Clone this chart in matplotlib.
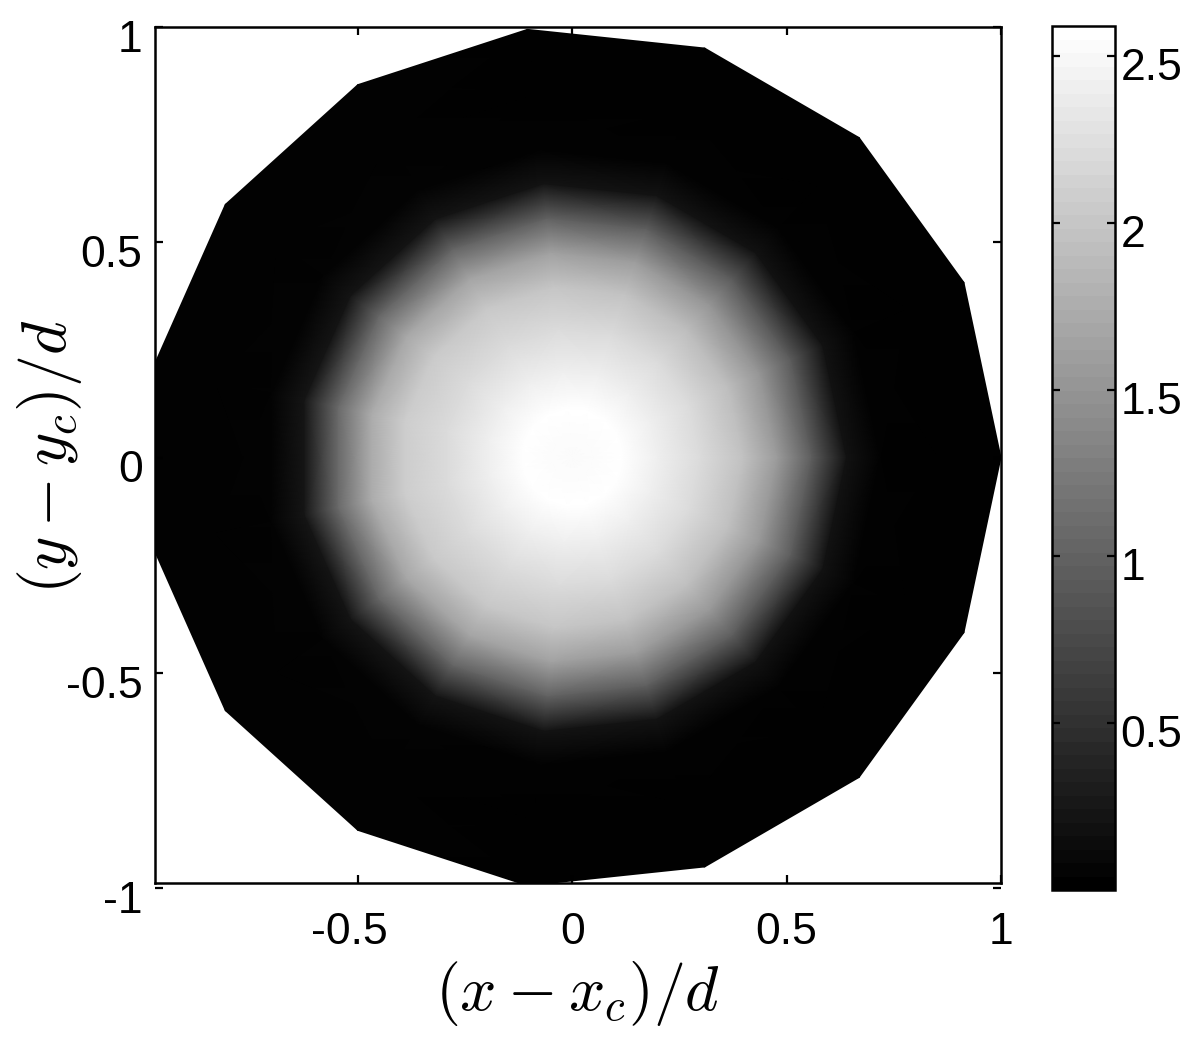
import numpy as np
import matplotlib
matplotlib.use("Agg")
import matplotlib.pyplot as plt
from matplotlib.cm import ScalarMappable
from matplotlib.colors import Normalize
from matplotlib.patches import Rectangle
from matplotlib.transforms import Affine2D

# -- data ----------------------------------------------------------------------
ring_radius = [0.0, 0.05, 0.115, 0.2, 0.3, 0.4, 0.48, 0.56, 0.64, 0.72, 0.85, 1.0]
ring_value = [2.54, 2.55, 2.59, 2.42, 2.22, 2.0, 1.62, 0.98, 0.2, 0.03, 0.02, 0.02]
n_sectors = 15
# small change of brightness from sector to sector in the outer part of the blob
sector_gain = [0.96, 0.92, 0.92, 0.97, 1.0, 1.03, 1.05, 1.08, 1.08, 1.04, 1.02, 1.0, 0.97, 0.94, 0.94]

x_ticks = [-0.5, 0, 0.5, 1]
x_tick_labels = ["-0.5", "0", "0.5", "1"]
y_ticks = [-1, -0.5, 0, 0.5, 1]
y_tick_labels = ["-1", "-0.5", "0", "0.5", "1"]
cbar_ticks = [0.5, 1, 1.5, 2, 2.5]
cbar_tick_labels = ["0.5", "1", "1.5", "2", "2.5"]
v_min, v_max = 0.0, 2.59

plt.rcParams["font.family"] = ["Liberation Sans", "DejaVu Sans"]
plt.rcParams["mathtext.fontset"] = "cm"
plt.rcParams["axes.unicode_minus"] = False

W, H = 1200, 1042
fig = plt.figure(figsize=(W / 100, H / 100), dpi=100)

# -- main map -------------------------------------------------------------------
ax = fig.add_axes([155 / W, (H - 888) / H, (1001 - 155) / W, (888 - 27) / H])

theta = np.deg2rad(np.arange(n_sectors + 1) * 360 / n_sectors)
radius = np.array(ring_radius)
X = np.outer(radius, np.cos(theta))
Y = np.outer(radius, np.sin(theta))
gain = np.array(sector_gain + sector_gain[:1])
blend = np.clip((radius - 0.3) / 0.2, 0, 1)  # inner rings stay round
C = np.outer(ring_value, np.ones(n_sectors + 1)) * (1 + np.outer(blend, gain - 1))

x_lo, y_axis, y_lo = -0.973, -0.988, -1.0
mesh = ax.pcolormesh(X, Y, C, shading="gouraud", cmap="gray", vmin=v_min, vmax=v_max)
mesh.set_clip_path(Rectangle((x_lo, y_axis), 1 - x_lo, 1 - y_axis, transform=ax.transData))
ax.set_xlim(x_lo, 1)
ax.set_ylim(y_lo, 1)

# bottom line sits a bit above the -1 tick, as in the original
ax.spines["bottom"].set_position(("data", y_axis))
ax.spines["left"].set_bounds(y_axis, 1)
ax.spines["right"].set_bounds(y_axis, 1)
for s in ax.spines.values():
    s.set_linewidth(1.8)
ax.patch.set_visible(False)

ax.set_xticks(x_ticks, x_tick_labels)
ax.set_yticks(y_ticks, y_tick_labels)
ax.tick_params(direction="in", length=6, width=1.6, top=True, right=True, labelsize=32)
ax.tick_params(axis="x", pad=21)
ax.tick_params(axis="y", pad=9)
for lab in ax.get_yticklabels():
    lab.set_transform(lab.get_transform() + Affine2D().translate(0, -9))
for lab in ax.get_xticklabels():
    if lab.get_text().startswith("-"):
        lab.set_transform(lab.get_transform() + Affine2D().translate(-8, 0))

fig.text(578 / W, 1 - 994 / H, r"$(x-x_c)/d$", fontsize=46, ha="center", va="center")
fig.text(50 / W, 1 - 457 / H, r"$(y-y_c)/d$", fontsize=46, ha="center", va="center", rotation=90)

# -- colour bar -----------------------------------------------------------------
cax = fig.add_axes([1052 / W, (H - 890) / H, (1115 - 1052) / W, (890 - 26) / H])
sm = ScalarMappable(norm=Normalize(v_min, v_max), cmap=plt.get_cmap("gray", 64))
cbar = fig.colorbar(sm, cax=cax)
cbar.set_ticks(cbar_ticks, labels=cbar_tick_labels)
cbar.outline.set_linewidth(1.8)
cax.tick_params(direction="in", length=6, width=1.6, left=True, right=True, labelsize=32, pad=4)
for lab in cax.get_yticklabels():
    lab.set_transform(lab.get_transform() + Affine2D().translate(0, -8))

fig.savefig("out.png", dpi=100)
